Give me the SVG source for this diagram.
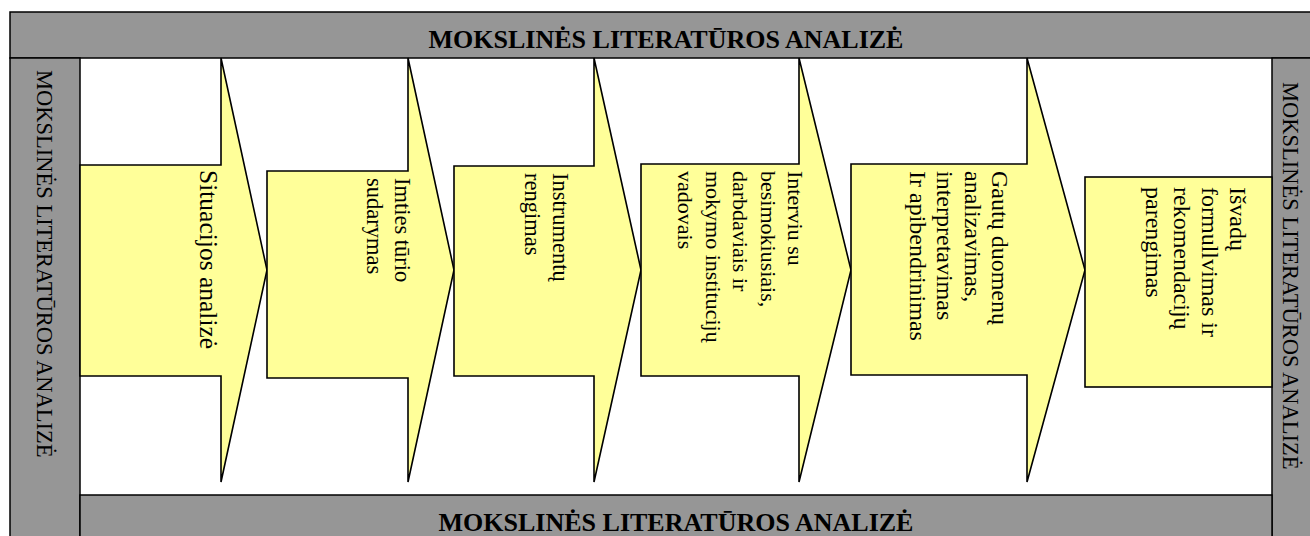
<svg xmlns="http://www.w3.org/2000/svg" width="1310" height="536" viewBox="0 0 1310 536">
<style>
.bar{fill:#969696;stroke:#000;stroke-width:1.5}
.arw{fill:#FFFF99;stroke:#000;stroke-width:1.6;stroke-linejoin:miter}
.t{font-family:"Liberation Serif","Times New Roman",serif;font-size:22.5px;fill:#000}
.b{font-family:"Liberation Serif","Times New Roman",serif;font-size:26px;font-weight:bold;fill:#000}
.s1{font-size:25.5px}
.s4{font-size:22px}
.s5{font-size:24px}
</style>
<rect width="1310" height="536" fill="#fff"/>
<g id="frame">
<rect class="bar" x="10" y="12" width="1310" height="46"/>
<rect class="bar" x="10" y="58" width="70" height="490"/>
<rect class="bar" x="1272" y="58" width="50" height="490"/>
<rect class="bar" x="80" y="495" width="1192" height="50"/>
<text class="b" x="666" y="48" text-anchor="middle">MOKSLINĖS LITERATŪROS ANALIZĖ</text>
<text class="b" x="676" y="531" text-anchor="middle">MOKSLINĖS LITERATŪROS ANALIZĖ</text>
<text class="t" transform="translate(37,70) rotate(90)">MOKSLINĖS LITERATŪROS ANALIZĖ</text>
<text class="t" transform="translate(1283,82) rotate(90)">MOKSLINĖS LITERATŪROS ANALIZĖ</text>
</g>
<g id="connectors"></g>
<g id="step1">
<polygon class="arw" points="80,165 221,165 221,58 267,270 221,482 221,376 80,376"/>
<text class="t s1" transform="translate(200,170) rotate(90)">Situacijos analizė</text>
</g>
<g id="step2">
<polygon class="arw" points="267,171 408,171 408,58 454,270 408,482 408,378 267,378"/>
<text class="t" transform="translate(395,178) rotate(90)">Imties tūrio</text>
<text class="t" transform="translate(367,178) rotate(90)">sudarymas</text>
</g>
<g id="step3">
<polygon class="arw" points="454,166 594,166 594,58 641,270 594,482 594,376 454,376"/>
<text class="t" transform="translate(553,173) rotate(90)">Instrumentų</text>
<text class="t" transform="translate(525,173) rotate(90)">rengimas</text>
</g>
<g id="step4">
<polygon class="arw" points="641,164 799,164 799,58 851,270 799,482 799,376 641,376"/>
<text class="t s4" transform="translate(788,171) rotate(90)">Interviu su</text>
<text class="t s4" transform="translate(760.5,171) rotate(90)">besimokiusiais,</text>
<text class="t s4" transform="translate(733,171) rotate(90)">darbdaviais ir</text>
<text class="t s4" transform="translate(705.5,171) rotate(90)">mokymo institucijų</text>
<text class="t s4" transform="translate(678,171) rotate(90)">vadovais</text>
</g>
<g id="step5">
<polygon class="arw" points="851,164 1027,164 1027,58 1085,270 1027,482 1027,375 851,375"/>
<text class="t s5" transform="translate(992,171) rotate(90)">Gautų duomenų</text>
<text class="t s5" transform="translate(964.5,171) rotate(90)">analizavimas,</text>
<text class="t s5" transform="translate(937,171) rotate(90)">interpretavimas</text>
<text class="t s5" transform="translate(909.5,171) rotate(90)">Ir apibendrinimas</text>
</g>
<g id="step6">
<rect class="arw" x="1085" y="177" width="187" height="210"/>
<text class="t s5" transform="translate(1230,187) rotate(90)">Išvadų</text>
<text class="t s5" transform="translate(1202,187) rotate(90)">formullvimas ir</text>
<text class="t s5" transform="translate(1174,187) rotate(90)">rekomendacijų</text>
<text class="t s5" transform="translate(1146,187) rotate(90)">parengimas</text>
</g>
</svg>
